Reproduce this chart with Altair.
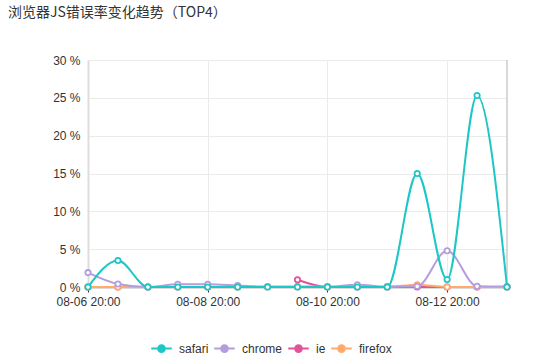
import altair as alt
import pandas as pd

title_text = "浏览器JS错误率变化趋势（TOP4）"
times = ["08-06 20:00", "08-07 08:00", "08-07 20:00", "08-08 08:00", "08-08 20:00",
         "08-09 08:00", "08-09 20:00", "08-10 08:00", "08-10 20:00", "08-11 08:00",
         "08-11 20:00", "08-12 08:00", "08-12 20:00", "08-13 08:00", "08-13 20:00"]
tick_labels = ["08-06 20:00", "08-08 20:00", "08-10 20:00", "08-12 20:00"]
series = ["safari", "chrome", "ie", "firefox"]
colors = ["#1ec6c6", "#b39ddf", "#e2529b", "#ffab6b"]
safari = [0, 3.5, 0, 0, 0, 0, 0, 0, 0, 0, 0, 15.0, 1.0, 25.3, 0]
chrome = [1.9, 0.4, 0, 0.35, 0.35, 0.2, 0.05, 0.05, 0.05, 0.3, 0.05, 0.1, 4.8, 0.1, 0.05]
ie = [0, 0, 0, 0, 0, 0, None, 0.95, 0, 0, 0, 0, 0, 0, 0]
firefox = [0, 0, 0, 0, 0, 0, 0, 0, 0, 0, 0, 0.3, 0, 0, 0]

values = {"safari": safari, "chrome": chrome, "ie": ie, "firefox": firefox}
rows = []
for s in series:
    for t, v in zip(times, values[s]):
        rows.append({"time": t, "browser": s, "rate": v})
df = pd.DataFrame(rows)

FONT = "Liberation Sans"
sym_path = ("M-1,0L-0.42,0M0.42,0L1,0"
            "M-0.33,0A0.33,0.33 0 1,0 0.33,0A0.33,0.33 0 1,0 -0.33,0Z")

x_enc = alt.X("time:O", sort=None,
              scale=alt.Scale(type="point", padding=0, domain=times),
              axis=alt.Axis(values=tick_labels, labelAngle=0, title=None,
                            grid=True, gridColor="#ebebeb", gridWidth=1,
                            domainColor="#b8b8b8", domainWidth=2,
                            tickColor="#333", tickSize=5, tickWidth=1,
                            labelColor="#333", labelFontSize=12, labelFont=FONT,
                            labelPadding=4))
y_enc = alt.Y("rate:Q",
              scale=alt.Scale(domain=[0, 30], nice=False),
              axis=alt.Axis(values=[0, 5, 10, 15, 20, 25, 30], title=None,
                            labelExpr="datum.value + ' %'",
                            grid=True, gridColor="#ebebeb", gridWidth=1,
                            domainColor="#dddddd", domainWidth=2,
                            ticks=False, labelPadding=8,
                            labelColor="#333", labelFontSize=12, labelFont=FONT))
color_enc = alt.Color("browser:N",
                      scale=alt.Scale(domain=series, range=colors),
                      legend=alt.Legend(title=None, orient="none", direction="horizontal",
                                        columns=4, legendX=62, legendY=277,
                                        symbolType=sym_path, symbolSize=420,
                                        symbolStrokeWidth=2, symbolFillColor="white",
                                        labelFontSize=12, labelFont=FONT, labelColor="#333",
                                        labelOffset=6, columnPadding=1))

border = alt.Chart(pd.DataFrame({"time": [times[-1]]})).mark_rule(
    color="#cccccc", strokeWidth=1.5).encode(x=x_enc)

layers = [border]
for s in ["ie", "firefox", "chrome", "safari"]:
    layers.append(
        alt.Chart(df).transform_filter(alt.datum.browser == s).mark_line(
            interpolate="monotone", strokeWidth=2, invalid="break-paths-show-domains",
            point=alt.OverlayMarkDef(filled=True, fill="white", size=28, strokeWidth=1.8)
        ).encode(x=x_enc, y=y_enc, color=color_enc, stroke=color_enc)
    )

title_layer = alt.Chart(pd.DataFrame({"t": [title_text]})).mark_text(
    align="left", baseline="middle", fontSize=14, color="#333",
    font="Noto Sans CJK SC").encode(text="t:N", x=alt.value(-80), y=alt.value(-47))
layers.append(title_layer)

chart = alt.layer(*layers).properties(
    width=419, height=227,
    autosize=alt.AutoSizeParams(type="none"),
    padding={"left": 88, "top": 60, "right": 37, "bottom": 69},
).configure_view(stroke=None).configure_legend(symbolType=sym_path)

chart.save("out.html", embed_options={"renderer": "svg", "actions": False})
